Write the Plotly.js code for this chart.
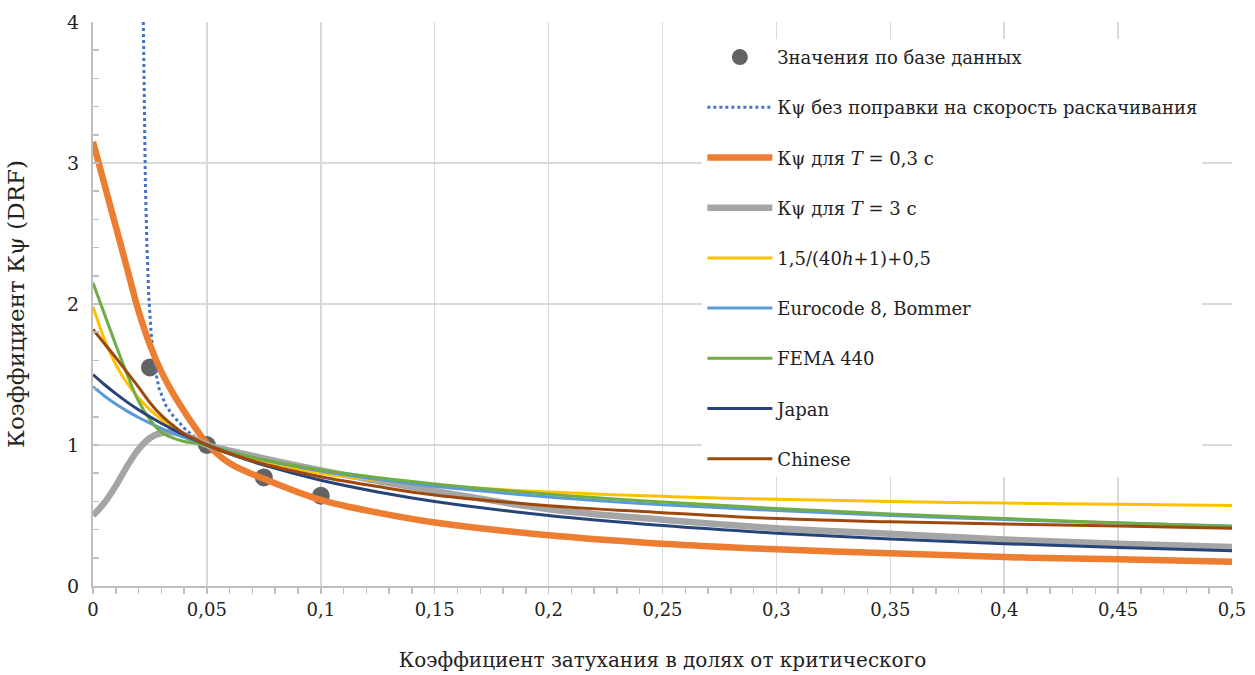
<!DOCTYPE html>
<html>
<head>
<meta charset="utf-8">
<script src="https://cdn.plot.ly/plotly-3.0.1.min.js"></script>
<style>html,body{margin:0;padding:0;background:#fff;}#chart{width:1255px;height:675px;}</style>
</head>
<body>
<div id="chart"></div>
<script>
// Damping ratio grid (fraction of critical)
var xs = [0, 0.005, 0.01, 0.015, 0.02, 0.025, 0.03, 0.035, 0.04, 0.045, 0.05, 0.06, 0.075, 0.1, 0.125, 0.15, 0.2, 0.25, 0.3, 0.35, 0.4, 0.45, 0.5];

// Database values
var dbX = [0.025, 0.05, 0.075, 0.1];
var dbY = [1.55, 1.0, 0.77, 0.64];

// K psi without rocking-speed correction
var rawX = [0.0221, 0.0225, 0.023, 0.0237, 0.0245, 0.0255, 0.027, 0.029, 0.032, 0.035, 0.04, 0.045, 0.05];
var rawY = [4.0, 3.4, 2.85, 2.4, 2.05, 1.8, 1.56, 1.40, 1.28, 1.21, 1.12, 1.05, 1.0];

var kT03 = [3.15, 2.85, 2.55, 2.25, 1.95, 1.71, 1.52, 1.37, 1.24, 1.12, 1.01, 0.87, 0.76, 0.61, 0.52, 0.45, 0.36, 0.30, 0.26, 0.232, 0.205, 0.19, 0.172];
var kT3  = [0.50, 0.59, 0.71, 0.85, 0.97, 1.05, 1.085, 1.09, 1.07, 1.035, 1.0, 0.96, 0.905, 0.82, 0.745, 0.675, 0.545, 0.47, 0.41, 0.37, 0.33, 0.30, 0.277];
var kEmp = [1.98, 1.75, 1.571, 1.438, 1.333, 1.25, 1.182, 1.125, 1.077, 1.036, 1.0, 0.941, 0.875, 0.80, 0.75, 0.714, 0.667, 0.636, 0.615, 0.60, 0.588, 0.579, 0.571];
var kEC8 = [1.414, 1.348, 1.291, 1.240, 1.195, 1.155, 1.118, 1.085, 1.054, 1.026, 1.0, 0.953, 0.894, 0.816, 0.756, 0.707, 0.632, 0.577, 0.535, 0.50, 0.471, 0.447, 0.426];
var kFEMA = [2.15, 1.93, 1.71, 1.50, 1.31, 1.18, 1.09, 1.05, 1.025, 1.012, 1.0, 0.952, 0.895, 0.823, 0.769, 0.723, 0.651, 0.595, 0.55, 0.511, 0.478, 0.448, 0.422];
var kJap = [1.5, 1.429, 1.364, 1.304, 1.25, 1.20, 1.154, 1.111, 1.071, 1.034, 1.0, 0.9375, 0.857, 0.75, 0.667, 0.60, 0.50, 0.429, 0.375, 0.333, 0.30, 0.273, 0.25];
var kChn = [1.82, 1.72, 1.62, 1.515, 1.41, 1.30, 1.21, 1.14, 1.08, 1.04, 1.0, 0.94, 0.865, 0.775, 0.705, 0.645, 0.57, 0.52, 0.478, 0.455, 0.44, 0.425, 0.41];

var names = [
  'Значения по базе данных',
  'Кψ без поправки на скорость раскачивания',
  'Кψ для <i>T</i> = 0,3 с',
  'Кψ для <i>T</i> = 3 с',
  '1,5/(40<i>h</i>+1)+0,5',
  'Eurocode 8, Bommer',
  'FEMA 440',
  'Japan',
  'Chinese'
];

var xTickVals = [0, 0.05, 0.1, 0.15, 0.2, 0.25, 0.3, 0.35, 0.4, 0.45, 0.5];
var xTickText = ['0', '0,05', '0,1', '0,15', '0,2', '0,25', '0,3', '0,35', '0,4', '0,45', '0,5'];
var yTickVals = [0, 1, 2, 3, 4];
var yTickText = ['0', '1', '2', '3', '4'];

function curve(i, x, y, color, width) {
  return {
    x: x, y: y, type: 'scatter', mode: 'lines', name: names[i],
    legendgroup: 'g' + i,
    line: {color: color, width: width, shape: 'spline', smoothing: 1},
    hoverinfo: 'skip'
  };
}

var traces = [
  {x: dbX, y: dbY, type: 'scatter', mode: 'markers', name: names[0], legendgroup: 'g0',
   marker: {color: '#636363', size: 18}},
  {x: rawX, y: rawY, type: 'scatter', mode: 'lines', name: names[1], legendgroup: 'g1',
   line: {color: '#4472C4', width: 3, dash: 'dot'}},
  curve(2, xs, kT03, '#ED7D31', 6.5),
  curve(3, xs, kT3, '#A5A5A5', 6.5),
  curve(4, xs, kEmp, '#FFC000', 3),
  curve(5, xs, kEC8, '#5B9BD5', 3),
  curve(6, xs, kFEMA, '#70AD47', 3),
  curve(7, xs, kJap, '#264478', 3),
  curve(8, xs, kChn, '#9E480E', 3)
];

var font = 'DejaVu Serif';

var layout = {
  width: 1255, height: 675,
  margin: {l: 93, r: 23, t: 22, b: 89},
  paper_bgcolor: '#ffffff', plot_bgcolor: '#ffffff',
  font: {family: font, size: 18, color: '#222222'},
  showlegend: true,
  legend: {
    x: 0.535, y: 0.97, xanchor: 'left', yanchor: 'top',
    bgcolor: '#ffffff', borderwidth: 0,
    font: {family: font, size: 18, color: '#222222'},
    traceorder: 'grouped', tracegroupgap: 23.8, itemwidth: 65
  },
  xaxis: {
    range: [0, 0.5], tickmode: 'array', tickvals: xTickVals, ticktext: xTickText,
    showgrid: true, gridcolor: '#D9D9D9', gridwidth: 1.5,
    showline: true, linecolor: '#BFBFBF', linewidth: 2,
    ticks: 'outside', ticklen: 6, tickcolor: '#BFBFBF', tickwidth: 1.5,
    minor: {dtick: 0.01, ticks: 'outside', ticklen: 6, tickcolor: '#BFBFBF', tickwidth: 1.5, showgrid: false},
    zeroline: false,
    tickfont: {family: font, size: 18, color: '#222222'},
    title: {text: 'Коэффициент затухания в долях от критического', font: {family: font, size: 20, color: '#222222'}, standoff: 34}
  },
  yaxis: {
    range: [0, 4], tickmode: 'array', tickvals: yTickVals, ticktext: yTickText,
    showgrid: true, gridcolor: '#D9D9D9', gridwidth: 1.5,
    showline: true, linecolor: '#BFBFBF', linewidth: 2,
    ticks: 'inside', ticklen: 6, tickcolor: '#BFBFBF', tickwidth: 1.5,
    minor: {dtick: 0.2, ticks: 'inside', ticklen: 6, tickcolor: '#BFBFBF', tickwidth: 1.5, showgrid: false},
    zeroline: false,
    tickfont: {family: font, size: 19, color: '#222222'},
    ticklabelstandoff: 8,
    title: {text: 'Коэффициент Кψ (DRF)', font: {family: font, size: 23, color: '#222222'}, standoff: 36}
  }
};

Plotly.newPlot('chart', traces, layout, {displayModeBar: false, staticPlot: true});
</script>
</body>
</html>
